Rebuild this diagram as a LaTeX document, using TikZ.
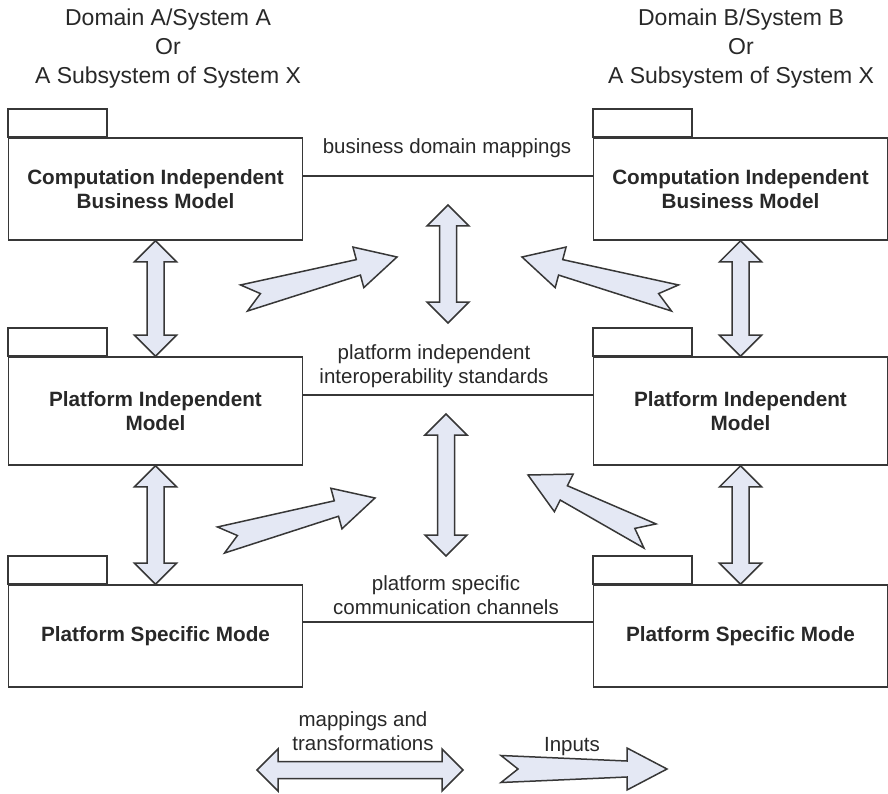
\documentclass[tikz,border=0pt]{standalone}
\usepackage{fontspec}
\setmainfont{Liberation Sans}
\usetikzlibrary{calc}
\usetikzlibrary{positioning}

\definecolor{linegray}{RGB}{55,55,55}
\definecolor{textgray}{RGB}{40,40,40}
\definecolor{arrowfill}{RGB}{228,232,244}

% block arrow sizes (double arrows)
\def\HeadL{21pt}
\def\HeadW{21pt}
\def\ShaftW{8.5pt}
% block arrow sizes (notched input arrows)
\def\InL{40pt}
\def\InW{21pt}
\def\InShaft{8pt}
\def\InTail{13.5pt}
\def\InNotch{17pt}

% double headed block arrow from #1 to #2
\newcommand{\dblarrow}[2]{%
  \filldraw[blockarrow] let \p1=(#1), \p2=(#2), \n1={atan2(\y2-\y1,\x2-\x1)} in
    (\p1)
    -- ($(\p1)+(\n1:\HeadL)+(\n1+90:\HeadW)$)
    -- ($(\p1)+(\n1:\HeadL)+(\n1+90:\ShaftW)$)
    -- ($(\p2)+(\n1+180:\HeadL)+(\n1+90:\ShaftW)$)
    -- ($(\p2)+(\n1+180:\HeadL)+(\n1+90:\HeadW)$)
    -- (\p2)
    -- ($(\p2)+(\n1+180:\HeadL)+(\n1-90:\HeadW)$)
    -- ($(\p2)+(\n1+180:\HeadL)+(\n1-90:\ShaftW)$)
    -- ($(\p1)+(\n1:\HeadL)+(\n1-90:\ShaftW)$)
    -- ($(\p1)+(\n1:\HeadL)+(\n1-90:\HeadW)$)
    -- cycle;}

% notched input arrow, tail #1, tip #2
\newcommand{\inarrow}[2]{%
  \filldraw[blockarrow] let \p1=(#1), \p2=(#2), \n1={atan2(\y2-\y1,\x2-\x1)} in
    (\p2)
    -- ($(\p2)+(\n1+180:\InL)+(\n1+90:\InW)$)
    -- ($(\p2)+(\n1+180:\InL)+(\n1+90:\InShaft)$)
    -- ($(\p1)+(\n1+90:\InTail)$)
    -- ($(\p1)+(\n1:\InNotch)$)
    -- ($(\p1)+(\n1-90:\InTail)$)
    -- ($(\p2)+(\n1+180:\InL)+(\n1-90:\InShaft)$)
    -- ($(\p2)+(\n1+180:\InL)+(\n1-90:\InW)$)
    -- cycle;}

\begin{document}
\begin{tikzpicture}[x=1pt,y=-1pt,
  model/.style={draw=linegray, line width=1.6pt, minimum width=294pt,
    minimum height=102pt, inner sep=0pt, align=center, text=textgray,
    font=\fontsize{20.7}{24}\selectfont\bfseries},
  modeltab/.style={draw=linegray, line width=1.6pt},
  link/.style={draw=linegray, line width=1.4pt},
  maplabel/.style={align=center, text=textgray, font=\fontsize{20.5}{24}\selectfont},
  heading/.style={align=center, text=textgray, font=\fontsize{23}{29}\selectfont},
  blockarrow/.style={draw=linegray, fill=arrowfill, line width=1.5pt, line join=miter}
]
\useasboundingbox (0,0) rectangle (888,794);

%---------------------------------------
% Headings
%---------------------------------------
\node[heading] (sysA) at (168,49) {Domain A/System A\\Or\\A Subsystem of System X};
\node[heading] (sysB) at (741,49) {Domain B/System B\\Or\\A Subsystem of System X};

%---------------------------------------
% Model packages
%---------------------------------------
\node[model] (cimA) at (155.5,189) {Computation Independent\\Business Model};
\node[model] (cimB) at (740.5,189) {Computation Independent\\Business Model};
\node[model, minimum height=108pt] (pimA) at (155.5,411) {Platform Independent\\Model};
\node[model, minimum height=108pt] (pimB) at (740.5,411) {Platform Independent\\Model};
\node[model] (psmA) at (155.5,636) {Platform Specific Mode};
\node[model] (psmB) at (740.5,636) {Platform Specific Mode};

% package tabs
\foreach \m in {cimA,cimB,pimA,pimB,psmA,psmB}
  \draw[modeltab] (\m.north west) rectangle ++(99,-28);

%---------------------------------------
% Links between the two sides
%---------------------------------------
\draw[link] ([yshift=13pt]cimA.east) -- ([yshift=13pt]cimB.west);
\draw[link] ([yshift=16pt]pimA.east) -- ([yshift=16pt]pimB.west);
\draw[link] ([yshift=14pt]psmA.east) -- ([yshift=14pt]psmB.west);

\node[maplabel] (bizmap) at (447,148) {business domain mappings};
\node[maplabel] (pimmap) at (434,366) {platform independent\\interoperability standards};
\node[maplabel] (psmmap) at (446,595) {platform specific\\communication channels};

%---------------------------------------
% Mappings and transformations
%---------------------------------------
\dblarrow{cimA.south}{pimA.north}
\dblarrow{pimA.south}{psmA.north}
\dblarrow{cimB.south}{pimB.north}
\dblarrow{pimB.south}{psmB.north}

\coordinate (bizTop) at (448,205);
\coordinate (bizBot) at (448,323);
\coordinate (pimTop) at (446,414);
\coordinate (pimBot) at (446,556);
\dblarrow{bizTop}{bizBot}
\dblarrow{pimTop}{pimBot}

%---------------------------------------
% Inputs
%---------------------------------------
\coordinate (cimAout) at (244,298);
\coordinate (cimBout) at (675,298);
\coordinate (pimAout) at (221,540);
\coordinate (pimBout) at (650,536);
\coordinate (bizInA) at (397,257);
\coordinate (bizInB) at (522,257);
\coordinate (pimInA) at (375,498);
\coordinate (pimInB) at (528,475);
\inarrow{cimAout}{bizInA}
\inarrow{cimBout}{bizInB}
\inarrow{pimAout}{pimInA}
\inarrow{pimBout}{pimInB}

%---------------------------------------
% Legend
%---------------------------------------
\coordinate (legMapL) at (257,770);
\coordinate (legMapR) at (463,770);
\dblarrow{legMapL}{legMapR}
\node[maplabel] (legmap) at (363,731) {mappings and\\transformations};

\coordinate (legInL) at (501,769);
\coordinate (legInR) at (667,769);
\inarrow{legInL}{legInR}
\node[maplabel] (leginputs) at (572,747) {Inputs};

\end{tikzpicture}
\end{document}
